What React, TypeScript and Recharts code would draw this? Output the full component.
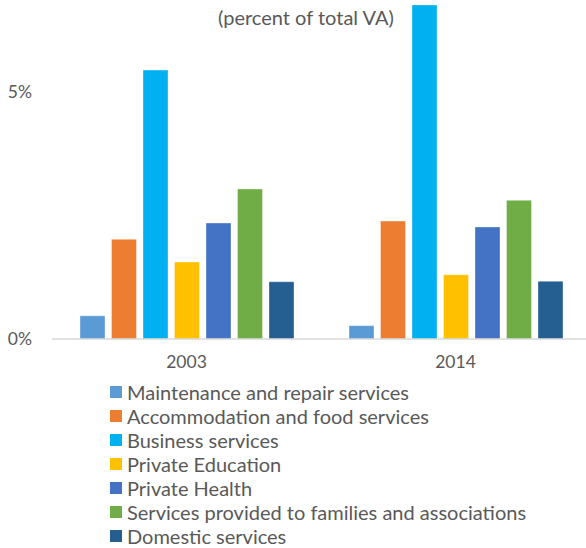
import React from "react";
import { BarChart, Bar, XAxis, YAxis } from "recharts";

const categories = ["2003", "2014"];
const seriesNames = [
  "Maintenance and repair services",
  "Accommodation and food services",
  "Business services",
  "Private Education",
  "Private Health",
  "Services provided to families and associations",
  "Domestic services",
];
const maintenance = [0.47, 0.27];
const accommodation = [2.02, 2.39];
const business = [5.45, 6.77];
const education = [1.56, 1.3];
const health = [2.35, 2.27];
const families = [3.04, 2.81];
const domestic = [1.16, 1.17];
const seriesValues = [maintenance, accommodation, business, education, health, families, domestic];
const colors = ["#5B9BD5", "#ED7D31", "#00B0F0", "#FFC000", "#4472C4", "#70AD47", "#255E91"];
const yTicks = [0, 5];
const title = "(percent of total VA)";

const data = categories.map((c, i) => {
  const row: Record<string, string | number> = { year: c };
  seriesNames.forEach((s, k) => {
    row["s" + k] = seriesValues[k][i];
  });
  return row;
});

const FONT = "Lato, 'Open Sans', sans-serif";

export default function App() {
  return (
    <div
      style={{
        position: "absolute",
        left: 0,
        top: 0,
        width: 586,
        height: 548,
        overflow: "hidden",
        background: "#fff",
        fontFamily: FONT,
      }}
    >
      <BarChart
        width={590}
        height={548}
        data={data}
        margin={{ top: 0, right: 0, left: 0, bottom: 179 }}
        barCategoryGap="10%"
        barGap={6.5}
      >
        <XAxis
          dataKey="year"
          axisLine={{ stroke: "#D9D9D9", strokeWidth: 1.5 }}
          tickLine={false}
          tickSize={0}
          tickMargin={17}
          height={30}
          tick={{ fill: "#595959", fontSize: 17.5, fontFamily: FONT }}
        />
        <YAxis
          domain={[0, 6.87]}
          ticks={yTicks}
          tickFormatter={(v: number) => v + "%"}
          axisLine={false}
          tickLine={false}
          tickSize={0}
          tickMargin={20}
          width={52}
          tick={{ fill: "#595959", fontSize: 17.5, fontFamily: FONT }}
        />
        {seriesNames.map((s, k) => (
          <Bar
            key={s}
            dataKey={"s" + k}
            name={s}
            fill={colors[k]}
            barSize={25}
            stroke="#ffffff"
            strokeOpacity={0.35}
            strokeWidth={1}
            isAnimationActive={false}
          />
        ))}
      </BarChart>
      <div
        style={{
          position: "absolute",
          left: 218,
          top: 4,
          fontSize: 20,
          color: "#595959",
          whiteSpace: "nowrap",
          lineHeight: "26px",
        }}
      >
        {title}
      </div>
      <div style={{ position: "absolute", left: 110, top: 380 }}>
        {seriesNames.map((s, k) => (
          <div
            key={s}
            style={{
              display: "flex",
              alignItems: "center",
              height: 24,
              fontSize: 20,
              color: "#595959",
              whiteSpace: "nowrap",
            }}
          >
            <span
              style={{
                display: "inline-block",
                width: 12,
                height: 12,
                background: colors[k],
                marginRight: 5,
              }}
            />
            {s}
          </div>
        ))}
      </div>
    </div>
  );
}
